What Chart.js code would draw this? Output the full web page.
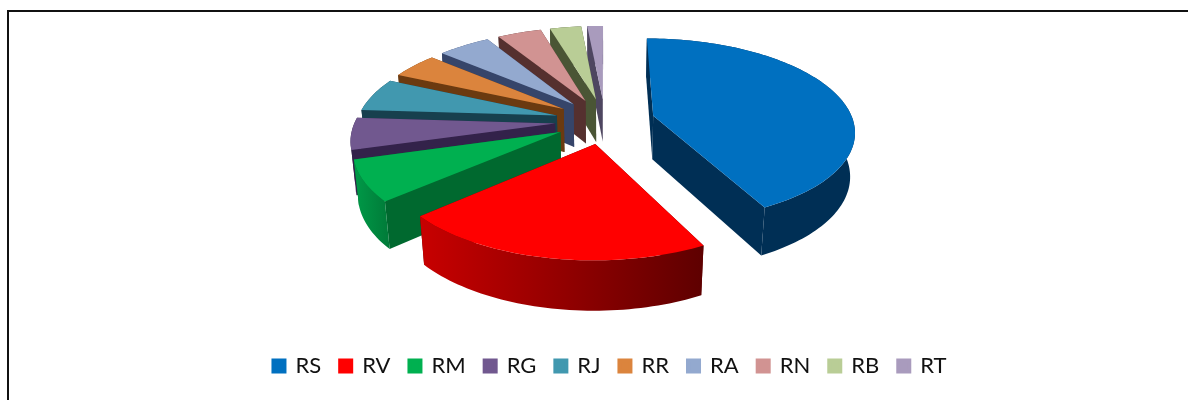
<!DOCTYPE html>
<html>
<head>
<meta charset="utf-8">
<style>
  html, body { margin: 0; background: #fff; }
  #wrap { position: relative; width: 1188px; height: 400px; overflow: hidden; }
  #frame { position: absolute; left: 7px; top: 10px; width: 1400px; height: 500px; border: 2px solid #111; box-sizing: border-box; }
  canvas { position: absolute; left: 0; top: 0; }
</style>
</head>
<body>
<div id="wrap"><div id="frame"></div><canvas id="chart" width="1188" height="400"></canvas></div>
<script src="https://cdn.jsdelivr.net/npm/chart.js@4"></script>
<script>
// ── Data ──────────────────────────────────────────────────────────────────────

const categories = ['RS', 'RV', 'RM', 'RG', 'RJ', 'RR', 'RA', 'RN', 'RB', 'RT'];
const shares     = [42.5, 21, 7, 5.5, 5.8, 4.5, 5, 4.2, 3, 1.5];

const topColors  = ['#0070c0', '#ff0000', '#00b050', '#71588f', '#4198af', '#db843d', '#93a9cf', '#d19392', '#b9cd96', '#a99bbd'];
const cutColors  = ['#002f55', '#5e0000', '#00692f', '#33224a', '#17404e', '#6b3a10', '#36456a', '#55302f', '#4a5535', '#4e4660'];
const rimLeft    = ['#002f55', '#c80000', '#009a48', '#33224a', '#17404e', '#6b3a10', '#36456a', '#55302f', '#4a5535', '#4e4660'];
const rimRight   = ['#002f55', '#5e0000', '#007a38', '#33224a', '#17404e', '#6b3a10', '#36456a', '#55302f', '#4a5535', '#4e4660'];

// ── 3D view settings ──────────────────────────────────────────────────────────

const PIE_RADIUS = 200;
const EXPLODE    = 50;
const DEPTH      = 50;
const ELEV_SIN   = 0.453;
const ELEV_COS   = 0.89;
const CAMERA     = 1167;
const SHIFT_X    = -5;    // pie sits a little left of the legend centre
const CENTER_Y   = 121;

/** Ground-plane point (x right, y towards viewer, z down) to canvas pixels */
function project(cx, x, y, z) {
  const f = CAMERA / (CAMERA - y * ELEV_COS + z * ELEV_SIN);
  return [cx + x * f, CENTER_Y + (y * ELEV_SIN + z * ELEV_COS) * f];
}

function tracePath(ctx, pts) {
  ctx.beginPath();
  pts.forEach((p, i) => (i ? ctx.lineTo(p[0], p[1]) : ctx.moveTo(p[0], p[1])));
  ctx.closePath();
}

// ── Plugin: draws the doughnut controller's arcs as an exploded 3D pie ────────

const pie3dPlugin = {
  id: 'pie3d',
  beforeDatasetsDraw(chart) {
    const { ctx } = chart;
    const arcs = chart.getDatasetMeta(0).data;
    const order = arcs.map((a, i) => i);

    const mid = a => (a.startAngle + a.endAngle) / 2;
    order.sort((a, b) => Math.sin(mid(arcs[a])) - Math.sin(mid(arcs[b])));

    ctx.save();
    order.forEach(i => {
      const arc = arcs[i];
      const cx = arc.x + SHIFT_X;
      const r  = PIE_RADIUS;
      const ox = Math.cos(mid(arc)) * EXPLODE;
      const oy = Math.sin(mid(arc)) * EXPLODE;
      const steps = Math.max(6, Math.ceil((arc.endAngle - arc.startAngle) * 40));

      const rimAt = z => {
        const pts = [];
        for (let s = 0; s <= steps; s++) {
          const t = arc.startAngle + (arc.endAngle - arc.startAngle) * s / steps;
          pts.push(project(cx, ox + Math.cos(t) * r, oy + Math.sin(t) * r, z));
        }
        return pts;
      };
      const top = rimAt(0), bottom = rimAt(DEPTH);
      const apexTop = project(cx, ox, oy, 0), apexBottom = project(cx, ox, oy, DEPTH);

      // cut faces and rim wall, back ones first
      const walls = [
        { pts: [apexTop, top[0], bottom[0], apexBottom], fill: cutColors[i] },
        { pts: [apexTop, top[steps], bottom[steps], apexBottom], fill: cutColors[i] },
        { pts: top.concat(bottom.slice().reverse()), rim: true },
      ];
      walls.forEach(w => { w.y = w.pts.reduce((sum, p) => sum + p[1], 0) / w.pts.length; });
      walls.sort((a, b) => a.y - b.y);
      walls.forEach(w => {
        tracePath(ctx, w.pts);
        if (w.rim) {
          const xs = w.pts.map(p => p[0]);
          const grad = ctx.createLinearGradient(Math.min(...xs), 0, Math.max(...xs), 0);
          grad.addColorStop(0, rimLeft[i]);
          grad.addColorStop(1, rimRight[i]);
          ctx.fillStyle = grad;
        } else {
          ctx.fillStyle = w.fill;
        }
        ctx.fill();
      });

      tracePath(ctx, [apexTop].concat(top));
      ctx.fillStyle = topColors[i];
      ctx.fill();
    });
    ctx.restore();
    return false;
  },
};

// ── Chart ─────────────────────────────────────────────────────────────────────

new Chart(document.getElementById('chart'), {
  type: 'pie',
  data: {
    labels: categories,
    datasets: [{
      data: shares,
      backgroundColor: topColors,
      // the border only widens the legend swatches, the pie is drawn by the plugin
      borderColor: topColors,
      borderWidth: 4,
      radius: PIE_RADIUS,
    }],
  },
  plugins: [pie3dPlugin],
  options: {
    responsive: false,
    animation: false,
    layout: { padding: { left: 32, bottom: 13 } },
    plugins: {
      tooltip: { enabled: false },
      legend: {
        position: 'bottom',
        labels: {
          boxWidth: 11,
          boxHeight: 11,
          padding: 19,
          color: '#111',
          font: { family: "Lato, 'Open Sans', sans-serif", size: 22 },
        },
      },
    },
  },
});
</script>
</body>
</html>
